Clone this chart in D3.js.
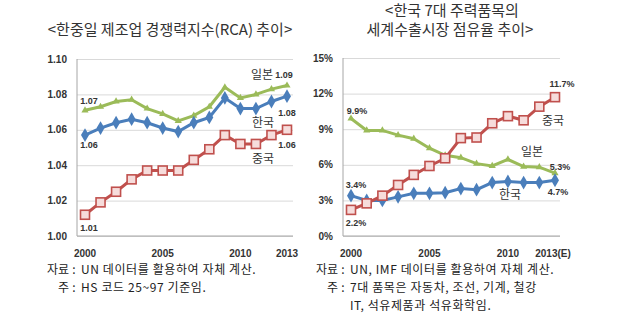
<!DOCTYPE html>
<html>
<head>
<meta charset="utf-8">
<script src="https://cdn.jsdelivr.net/npm/d3@7"></script>
<style>
  body { margin: 0; background: #fff; }
  svg text { font-family: "Noto Sans CJK KR", "Liberation Sans", sans-serif; }
</style>
</head>
<body>
<div id="chart"></div>
<script>
// 한중일 제조업 경쟁력지수(RCA)
const years = d3.range(2000, 2014);
const rcaKorea = [1.057, 1.061, 1.064, 1.066, 1.064, 1.061, 1.059, 1.064, 1.067, 1.078, 1.072, 1.072, 1.076, 1.079];
const rcaJapan = [1.071, 1.073, 1.076, 1.077, 1.072, 1.069, 1.065, 1.068, 1.073, 1.084, 1.078, 1.080, 1.083, 1.085];
const rcaChina = [1.012, 1.019, 1.025, 1.032, 1.037, 1.037, 1.037, 1.043, 1.049, 1.057, 1.052, 1.052, 1.057, 1.060];
const rcaTicks = [1.00, 1.02, 1.04, 1.06, 1.08, 1.10];

// 7대 주력품목 세계수출시장 점유율 (%)
const shareKorea = [3.4, 3.0, 3.0, 3.3, 3.6, 3.6, 3.65, 4.0, 3.9, 4.5, 4.6, 4.5, 4.5, 4.7];
const shareJapan = [9.9, 8.9, 8.9, 8.5, 8.2, 7.4, 6.8, 6.6, 6.1, 5.9, 6.45, 5.85, 5.8, 5.3];
const shareChina = [2.2, 2.75, 3.4, 4.3, 5.15, 5.9, 6.55, 8.25, 8.3, 9.5, 10.1, 9.75, 10.9, 11.7];
const shareTicks = [0, 3, 6, 9, 12, 15];

const xTickYears = [2000, 2005, 2010, 2013];

const W = 640, H = 333;
const svg = d3.select('#chart').append('svg')
    .attr('width', W)
    .attr('height', H);

const colors = { korea: '#4a7ebb', japan: '#9bbb59', china: '#c0504d' };
const numFont = 'Liberation Sans, Arial, sans-serif';

function drawPanel(opt) {
    const x = d3.scaleLinear().domain([2000, 2013]).range([opt.x0, opt.x1]);
    const y = d3.scaleLinear().domain(opt.domain).range([236, opt.yTop]);

    // grid lines
    const grid = svg.append('g')
        .attr('transform', `translate(${opt.axisX},0)`)
        .call(d3.axisLeft(y).tickValues(opt.ticks).tickSize(-(opt.gridRight - opt.axisX)).tickFormat(''));
    grid.select('.domain').remove();
    grid.selectAll('line').attr('stroke', '#d9d9d9').attr('stroke-width', 1);

    // axis lines
    svg.append('line')
        .attr('x1', opt.axisX).attr('x2', opt.axisX)
        .attr('y1', y(opt.domain[1])).attr('y2', y(opt.domain[0]))
        .attr('stroke', '#a6a6a6');
    svg.append('line')
        .attr('x1', opt.axisX).attr('x2', opt.gridRight)
        .attr('y1', y(opt.domain[0])).attr('y2', y(opt.domain[0]))
        .attr('stroke', '#a6a6a6');

    // y tick labels
    svg.append('g').selectAll('text')
        .data(opt.ticks)
        .enter().append('text')
        .attr('x', opt.axisX - 10)
        .attr('y', d => y(d))
        .attr('dy', '0.35em')
        .attr('text-anchor', 'end')
        .attr('font-size', 10)
        .attr('font-weight', 'bold')
        .attr('fill', '#333')
        .style('font-family', numFont)
        .text(opt.yFormat);

    // x tick labels
    svg.append('g').selectAll('text')
        .data(xTickYears)
        .enter().append('text')
        .attr('x', d => x(d) + (d === 2013 ? opt.lastShift : 0))
        .attr('y', 253)
        .attr('dy', '0.35em')
        .attr('text-anchor', 'middle')
        .attr('font-size', 10)
        .attr('font-weight', 'bold')
        .attr('fill', '#333')
        .style('font-family', numFont)
        .text(d => d === 2013 ? opt.lastLabel : d);

    const line = vals => d3.line().x((d, i) => x(years[i])).y(d => y(d))(vals);

    // Japan: triangles
    svg.append('path').attr('d', line(opt.japan))
        .attr('fill', 'none').attr('stroke', colors.japan).attr('stroke-width', 3);
    svg.append('g').selectAll('path')
        .data(opt.japan).enter().append('path')
        .attr('d', d3.symbol().type(d3.symbolTriangle).size(22))
        .attr('transform', (d, i) => `translate(${x(years[i])},${y(d)})`)
        .attr('fill', colors.japan);

    // Korea: diamonds
    svg.append('path').attr('d', line(opt.korea))
        .attr('fill', 'none').attr('stroke', colors.korea).attr('stroke-width', 3);
    svg.append('g').selectAll('path')
        .data(opt.korea).enter().append('path')
        .attr('d', d3.symbol().type(d3.symbolDiamond).size(55))
        .attr('transform', (d, i) => `translate(${x(years[i])},${y(d)})`)
        .attr('fill', colors.korea);

    // China: hollow squares
    svg.append('path').attr('d', line(opt.china))
        .attr('fill', 'none').attr('stroke', colors.china).attr('stroke-width', 3);
    svg.append('g').selectAll('rect')
        .data(opt.china).enter().append('rect')
        .attr('x', (d, i) => x(years[i]) - 4.5)
        .attr('y', d => y(d) - 4.5)
        .attr('width', 9).attr('height', 9)
        .attr('fill', '#f6dcdb')
        .attr('stroke', colors.china)
        .attr('stroke-width', 1.6);

    // annotations
    opt.notes.forEach(n => {
        svg.append('text')
            .attr('x', x(n.year) + n.dx)
            .attr('y', y(n.v) + n.dy)
            .attr('dy', '0.35em')
            .attr('text-anchor', 'middle')
            .attr('font-size', n.name ? 12 : 9)
            .attr('font-weight', n.name ? 'normal' : 'bold')
            .attr('fill', '#333')
            .style('font-family', n.name ? null : numFont)
            .text(n.t);
    });
}

drawPanel({
    x0: 85, x1: 287, axisX: 77, gridRight: 293, yTop: 59,
    domain: [1.00, 1.10], ticks: rcaTicks, yFormat: d3.format('.2f'),
    lastLabel: '2013', lastShift: 0,
    korea: rcaKorea, japan: rcaJapan, china: rcaChina,
    notes: [
        { year: 2000, v: rcaJapan[0], dx: 4, dy: -9, t: '1.07' },
        { year: 2000, v: rcaKorea[0], dx: 4, dy: 10, t: '1.06' },
        { year: 2000, v: rcaChina[0], dx: 4, dy: 13, t: '1.01' },
        { year: 2013, v: rcaJapan[13], dx: -25, dy: -11, t: '일본', name: true },
        { year: 2013, v: rcaJapan[13], dx: -3, dy: -11, t: '1.09' },
        { year: 2013, v: rcaKorea[13], dx: 0, dy: 17, t: '1.08' },
        { year: 2013, v: rcaKorea[13], dx: -24, dy: 27, t: '한국', name: true },
        { year: 2013, v: rcaChina[13], dx: 0, dy: 15, t: '1.06' },
        { year: 2013, v: rcaChina[13], dx: -24, dy: 29, t: '중국', name: true }
    ]
});

drawPanel({
    x0: 351, x1: 555, axisX: 343, gridRight: 560, yTop: 58,
    domain: [0, 15], ticks: shareTicks, yFormat: d => d + '%',
    lastLabel: '2013(E)', lastShift: -2,
    korea: shareKorea, japan: shareJapan, china: shareChina,
    notes: [
        { year: 2000, v: shareJapan[0], dx: 6, dy: -8, t: '9.9%' },
        { year: 2000, v: shareKorea[0], dx: 5, dy: -11, t: '3.4%' },
        { year: 2000, v: shareChina[0], dx: 5, dy: 13, t: '2.2%' },
        { year: 2013, v: shareChina[13], dx: 7, dy: -13, t: '11.7%' },
        { year: 2013, v: shareChina[13], dx: -2, dy: 24, t: '중국', name: true },
        { year: 2013, v: shareJapan[13], dx: -23, dy: -21, t: '일본', name: true },
        { year: 2013, v: shareJapan[13], dx: 5, dy: -6, t: '5.3%' },
        { year: 2013, v: shareKorea[13], dx: -45, dy: 15, t: '한국', name: true },
        { year: 2013, v: shareKorea[13], dx: 3, dy: 12, t: '4.7%' }
    ]
});

// titles
const title = svg.append('g').attr('fill', '#333').attr('font-size', 15);
title.append('text').attr('x', 170).attr('y', 35).attr('text-anchor', 'middle')
    .text('<한중일 제조업 경쟁력지수(RCA) 추이>');
title.append('text').attr('x', 452).attr('y', 16).attr('text-anchor', 'middle')
    .text('<한국 7대 주력품목의');
title.append('text').attr('x', 450).attr('y', 35).attr('text-anchor', 'middle')
    .text('세계수출시장 점유율 추이>');

// footnotes
const notesLeft = [
    { head: '자료', body: 'UN 데이터를 활용하여 자체 계산.', y: 270 },
    { head: '주', body: 'HS 코드 25~97 기준임.', y: 288 }
];
const notesRight = [
    { head: '자료', body: 'UN, IMF 데이터를 활용하여 자체 계산.', y: 270 },
    { head: '주', body: '7대 품목은 자동차, 조선, 기계, 철강', y: 288 },
    { head: '', body: 'IT, 석유제품과 석유화학임.', y: 306 }
];
function drawNotes(list, colonX) {
    const g = svg.append('g').attr('font-size', 12).attr('fill', '#222');
    list.forEach(n => {
        if (n.head) {
            g.append('text').attr('x', colonX - 5).attr('y', n.y).attr('dy', '0.35em')
                .attr('text-anchor', 'end').text(n.head);
            g.append('text').attr('x', colonX).attr('y', n.y).attr('dy', '0.35em')
                .attr('text-anchor', 'middle').text(':');
        }
        g.append('text').attr('x', colonX + 7).attr('y', n.y).attr('dy', '0.35em')
            .attr('letter-spacing', 0.6).text(n.body);
    });
}
drawNotes(notesLeft, 74);
drawNotes(notesRight, 343);
</script>
</body>
</html>
